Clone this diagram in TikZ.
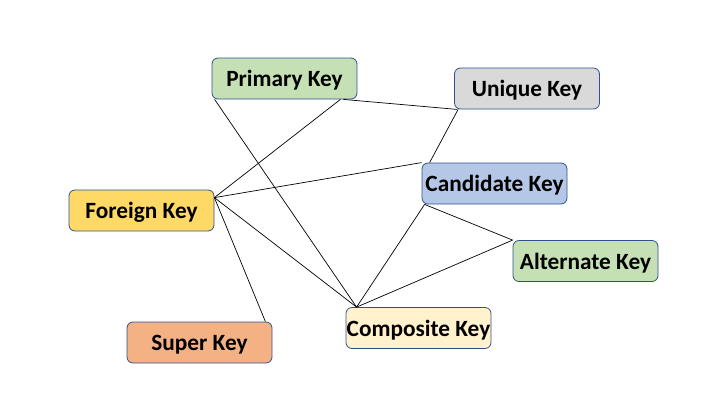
\documentclass[tikz,border=0pt]{standalone}
\usepackage{fontspec}
\setmainfont{Carlito}
\usetikzlibrary{calc}
\definecolor{bord}{HTML}{2F528F}
\definecolor{cgreen}{HTML}{C5E0B4}
\definecolor{cgrey}{HTML}{D9D9D9}
\definecolor{cblue}{HTML}{B4C7E7}
\definecolor{cyellow}{HTML}{FFD966}
\definecolor{corange}{HTML}{F4B183}
\definecolor{clight}{HTML}{FFF2CC}
\tikzset{
  keybox/.style={draw=bord, line width=0.8pt, rounded corners=6pt, minimum width=145pt, minimum height=41pt, inner sep=0pt, text height=20pt, text depth=4pt, font=\fontsize{23.3}{26}\selectfont\bfseries},
  link/.style={draw=black, line width=0.7pt}
}
\begin{document}
\begin{tikzpicture}[x=1pt,y=-1pt]
\useasboundingbox (0,0) rectangle (723,400);
\node[keybox, fill=cgreen] (pk) at (284.5,78.5) {Primary Key};
\node[keybox, fill=cgrey] (uk) at (527,88.5) {Unique Key};
\node[keybox, fill=cblue] (ck) at (494.5,183.5) {Candidate Key};
\node[keybox, fill=cyellow] (fk) at (141.5,210.5) {Foreign Key};
\node[keybox, fill=cgreen] (ak) at (585.5,261) {Alternate Key};
\node[keybox, fill=corange] (sk) at (199.5,342.5) {Super Key};
\node[keybox, fill=clight] (cp) at (418.5,328) {Composite Key};
\coordinate (fkp) at ([yshift=-8pt]fk.north east);
\coordinate (cpp) at ([xshift=11pt]cp.north west);
\coordinate (ckp) at ([xshift=3pt]ck.south west);
\path[link] ([xshift=3pt]pk.south west) -- (cpp);
\path[link] ([xshift=-17pt]pk.south east) -- (fkp);
\path[link] ([xshift=-14pt]pk.south east) -- ([xshift=3pt]uk.south west);
\path[link] ([xshift=4pt]uk.south west) -- ([xshift=8pt]ck.north west);
\path[link] (fkp) -- (ck.north west);
\path[link] (fkp) -- (cpp);
\path[link] (fkp) -- ([xshift=-7pt]sk.north east);
\path[link] (ckp) -- (cpp);
\path[link] (ckp) -- (ak.north west);
\path[link] (ak.north west) -- (cpp);
\end{tikzpicture}
\end{document}
